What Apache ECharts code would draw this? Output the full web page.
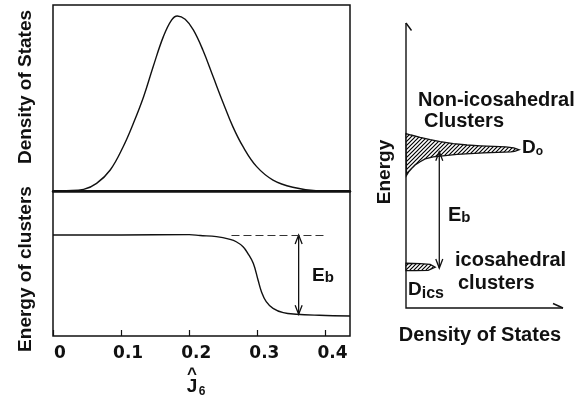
<!DOCTYPE html>
<html>
<head>
<meta charset="utf-8">
<script src="https://cdn.jsdelivr.net/npm/echarts@6/dist/echarts.min.js"></script>
<style>
  html, body { margin: 0; padding: 0; background: #fff; }
  #chart { width: 583px; height: 400px; }
</style>
</head>
<body>
<div id="chart"></div>
<script>
// ---- Upper panel: density of states versus the order parameter Ĵ6 ----
const j6Dos = [0, 0.02, 0.045, 0.064, 0.084, 0.103, 0.118, 0.133, 0.147, 0.162, 0.174, 0.1825,
               0.194, 0.206, 0.22, 0.235, 0.25, 0.264, 0.279, 0.299, 0.323, 0.352, 0.386, 0.436];
const dos = [0, 0.002, 0.009, 0.041, 0.113, 0.238, 0.364, 0.507, 0.668, 0.830, 0.919, 0.941,
             0.923, 0.866, 0.758, 0.615, 0.472, 0.346, 0.238, 0.131, 0.059, 0.020, 0.002, 0];

// ---- Lower panel: energy of clusters versus Ĵ6 ----
const j6Energy = [0, 0.1, 0.2, 0.216, 0.24, 0.26, 0.269, 0.279, 0.286, 0.294, 0.301, 0.306,
                  0.313, 0.323, 0.338, 0.357, 0.391, 0.436];
const energy = [0.697, 0.697, 0.699, 0.693, 0.685, 0.666, 0.650, 0.616, 0.570, 0.501, 0.386, 0.306,
                0.237, 0.191, 0.161, 0.150, 0.143, 0.138];

// barrier: dashed reference level and the Eb double arrow
const barrierLevel = 0.697;
const dashedRange = [0.262, 0.401];
const ebArrow = [[0.3606, 0.697, 0.150]];          // [Ĵ6, upper energy, lower energy]

// x-axis ticks
const tickValues = [0, 0.1, 0.2, 0.3, 0.4];
const tickLabels = ['0', '0.1', '0.2', '0.3', '0.4'];
const j6Max = 0.436;

// ---- Right schematic: energy distribution of clusters (density, energy) ----
const nonIcoDensity = [0, 3.2, 9.0, 15.4, 21.8, 30.1, 38.9, 47.4, 55.8, 63.5, 68.6, 72.0,
                       69.2, 66.7, 58.3, 49.4, 41.0, 32.5, 25.0, 17.3, 12.2, 9.0, 5.8, 3.7, 1.6, 0.3];
const nonIcoEnergy  = [61.2, 60.7, 59.9, 59.1, 58.4, 57.7, 57.2, 56.9, 56.7, 56.5, 56.2, 55.5,
                       55.0, 54.8, 54.6, 54.4, 54.2, 53.9, 53.5, 53.0, 52.3, 51.3, 50.2, 49.0, 47.7, 46.5];
const icoDensity = [0, 9, 15.4, 18.6, 14.1, 5.8, 0];
const icoEnergy  = [15.7, 15.6, 15.3, 14.3, 13.2, 13.1, 13.1];
const gapArrow = [[21.2, 54.8, 14.0]];             // [density, upper energy, lower energy]
const schematicAxes = [[0, 0, 100, 100]];           // origin and axis ends

const INK = '#111';
const FONT = '"Liberation Sans", Arial, Helvetica, sans-serif';

// diagonal hatching used for the filled distributions
const hatchCanvas = document.createElement('canvas');
hatchCanvas.width = 4; hatchCanvas.height = 4;
(function () {
  const g = hatchCanvas.getContext('2d');
  g.fillStyle = '#fff'; g.fillRect(0, 0, 4, 4);
  g.strokeStyle = '#000'; g.lineWidth = 1.2;
  g.beginPath();
  g.moveTo(0, 4); g.lineTo(4, 0);
  g.moveTo(-1, 1); g.lineTo(1, -1);
  g.moveTo(3, 5); g.lineTo(5, 3);
  g.stroke();
})();
const hatch = { image: hatchCanvas, repeat: 'repeat' };

function doubleArrow(params, api) {
  const a = api.coord([api.value(0), api.value(1)]);
  const b = api.coord([api.value(0), api.value(2)]);
  const hw = 3.5, hl = 9;
  const st = { stroke: INK, lineWidth: 1.3, fill: null };
  return {
    type: 'group', children: [
      { type: 'line', shape: { x1: a[0], y1: a[1], x2: b[0], y2: b[1] }, style: st },
      { type: 'polyline', shape: { points: [[a[0] - hw, a[1] + hl], a, [a[0] + hw, a[1] + hl]] }, style: st },
      { type: 'polyline', shape: { points: [[b[0] - hw, b[1] - hl], b, [b[0] + hw, b[1] - hl]] }, style: st }
    ]
  };
}

function hatchedShape(dens, en) {
  return function (params, api) {
    if (params.dataIndex !== 0) return null;
    const pts = dens.map((d, i) => api.coord([d, en[i]]));
    return { type: 'polygon', shape: { points: pts },
             style: { fill: hatch, stroke: INK, lineWidth: 1.3 } };
  };
}

function axesWithBarbs(params, api) {
  const o = api.coord([api.value(0), api.value(1)]);
  const yEnd = api.coord([api.value(0), api.value(3)]);
  const xEnd = api.coord([api.value(2), api.value(1)]);
  const st = { stroke: INK, lineWidth: 1.4, fill: null };
  return {
    type: 'group', children: [
      { type: 'polyline', shape: { points: [yEnd, o, xEnd] }, style: st },
      { type: 'line', shape: { x1: yEnd[0], y1: yEnd[1], x2: yEnd[0] + 5.5, y2: yEnd[1] + 7.5 }, style: st },
      { type: 'line', shape: { x1: xEnd[0], y1: xEnd[1], x2: xEnd[0] - 10, y2: xEnd[1] - 4.5 }, style: st }
    ]
  };
}

// plain bold title text; rotated titles read bottom-to-top
function label(text, x, y, opts) {
  opts = opts || {};
  return {
    type: 'text', x: x, y: y, rotation: opts.rotate ? Math.PI / 2 : 0,
    style: { text: text, font: 'bold ' + (opts.size || 20) + 'px ' + FONT, fill: INK,
             align: opts.align || 'left', verticalAlign: 'middle' }
  };
}

const chart = echarts.init(document.getElementById('chart'), null, { renderer: 'canvas' });

chart.setOption({
  animation: false,
  backgroundColor: '#fff',
  grid: [
    { left: 53, top: 5, width: 297, height: 186, show: true, borderColor: INK, borderWidth: 1.5 },
    { left: 53, top: 191, width: 297, height: 145, show: true, borderColor: INK, borderWidth: 1.5 },
    { left: 406, top: 23, width: 157, height: 285, show: false }
  ],
  xAxis: [
    { gridIndex: 0, type: 'value', min: 0, max: j6Max,
      axisLine: { show: true, lineStyle: { color: INK, width: 2.5 } },
      axisTick: { show: false }, axisLabel: { show: false }, splitLine: { show: false } },
    { gridIndex: 1, type: 'value', min: 0, max: j6Max,
      axisLine: { show: false }, splitLine: { show: false },
      axisTick: { show: true, inside: true, length: 6, customValues: tickValues,
                  lineStyle: { color: INK, width: 1.2 } },
      axisLabel: { customValues: tickValues, margin: 9, padding: [0, 0, 0, 14],
                   formatter: v => tickLabels[tickValues.indexOf(v)] ?? '',
                   fontFamily: '"DejaVu Sans", sans-serif', fontWeight: 'bold',
                   fontSize: 17, color: INK } },
    { gridIndex: 2, type: 'value', min: 0, max: 100, show: false }
  ],
  yAxis: [
    { gridIndex: 0, type: 'value', min: 0, max: 1, show: false },
    { gridIndex: 1, type: 'value', min: 0, max: 1, show: false },
    { gridIndex: 2, type: 'value', min: 0, max: 100, show: false }
  ],
  series: [
    { name: 'Density of States', type: 'line', xAxisIndex: 0, yAxisIndex: 0,
      data: j6Dos.map((x, i) => [x, dos[i]]), smooth: 0.4, showSymbol: false,
      lineStyle: { color: INK, width: 1.4 } },
    { name: 'Energy of clusters', type: 'line', xAxisIndex: 1, yAxisIndex: 1,
      data: j6Energy.map((x, i) => [x, energy[i]]), smooth: 0.4, showSymbol: false,
      lineStyle: { color: INK, width: 1.4 },
      markLine: { silent: true, symbol: ['none', 'none'], label: { show: false },
                  lineStyle: { color: '#333', width: 1, type: [8, 4] },
                  data: [[{ coord: [dashedRange[0], barrierLevel] }, { coord: [dashedRange[1], barrierLevel] }]] } },
    { type: 'custom', xAxisIndex: 1, yAxisIndex: 1, data: ebArrow, renderItem: doubleArrow, silent: true },
    { type: 'custom', xAxisIndex: 2, yAxisIndex: 2, data: schematicAxes, renderItem: axesWithBarbs, silent: true },
    { type: 'custom', xAxisIndex: 2, yAxisIndex: 2, silent: true,
      data: nonIcoDensity.map((d, i) => [d, nonIcoEnergy[i]]),
      renderItem: hatchedShape(nonIcoDensity, nonIcoEnergy) },
    { type: 'custom', xAxisIndex: 2, yAxisIndex: 2, silent: true,
      data: icoDensity.map((d, i) => [d, icoEnergy[i]]),
      renderItem: hatchedShape(icoDensity, icoEnergy) },
    { type: 'custom', xAxisIndex: 2, yAxisIndex: 2, data: gapArrow, renderItem: doubleArrow, silent: true, z: 5 }
  ],
  graphic: [
    label('Density of States', 26, 87, { align: 'center', rotate: true, size: 19 }),
    label('Energy of clusters', 26, 269, { align: 'center', rotate: true, size: 19 }),
    label('Energy', 385, 172, { align: 'center', rotate: true, size: 19 }),
    label('Density of States', 480, 335, { align: 'center' }),
    label('Non-icosahedral', 418, 100),
    label('Clusters', 424, 121),
    label('icosahedral', 455, 260),
    label('clusters', 458, 283),
    // Eb in the lower-left panel
    { type: 'text', x: 312, y: 276, style: { text: '{E|E}{b|b}', fill: INK, verticalAlign: 'middle',
        rich: { E: { font: 'bold 19px ' + FONT, verticalAlign: 'bottom' },
                b: { font: 'bold 15px ' + FONT, verticalAlign: 'bottom' } } } },
    // Eb in the schematic
    { type: 'text', x: 448, y: 215, style: { text: '{E|E}{b|b}', fill: INK, verticalAlign: 'middle',
        rich: { E: { font: 'bold 20px ' + FONT, verticalAlign: 'bottom' },
                b: { font: 'bold 15px ' + FONT, verticalAlign: 'bottom' } } } },
    // D0
    { type: 'text', x: 522, y: 148, style: { text: '{D|D}{o|o}', fill: INK, verticalAlign: 'middle',
        rich: { D: { font: 'bold 19px ' + FONT, verticalAlign: 'bottom' },
                o: { font: 'bold 12px ' + FONT, verticalAlign: 'bottom' } } } },
    // Dics
    { type: 'text', x: 408, y: 291, style: { text: '{D|D}{s|ics}', fill: INK, verticalAlign: 'middle',
        rich: { D: { font: 'bold 19px ' + FONT, verticalAlign: 'bottom', padding: [0, 0, 3, 0] },
                s: { font: 'bold 16px ' + FONT, verticalAlign: 'bottom' } } } },
    // Ĵ6 axis title
    { type: 'text', x: 192, y: 387, style: { text: 'J', font: 'bold 19px ' + FONT, fill: INK,
        align: 'center', verticalAlign: 'middle' } },
    { type: 'text', x: 192, y: 374, style: { text: '^', font: 'bold 17px ' + FONT, fill: INK,
        align: 'center', verticalAlign: 'middle' } },
    { type: 'text', x: 202, y: 392, style: { text: '6', font: 'bold 12px ' + FONT, fill: INK,
        align: 'center', verticalAlign: 'middle' } }
  ]
});
</script>
</body>
</html>
